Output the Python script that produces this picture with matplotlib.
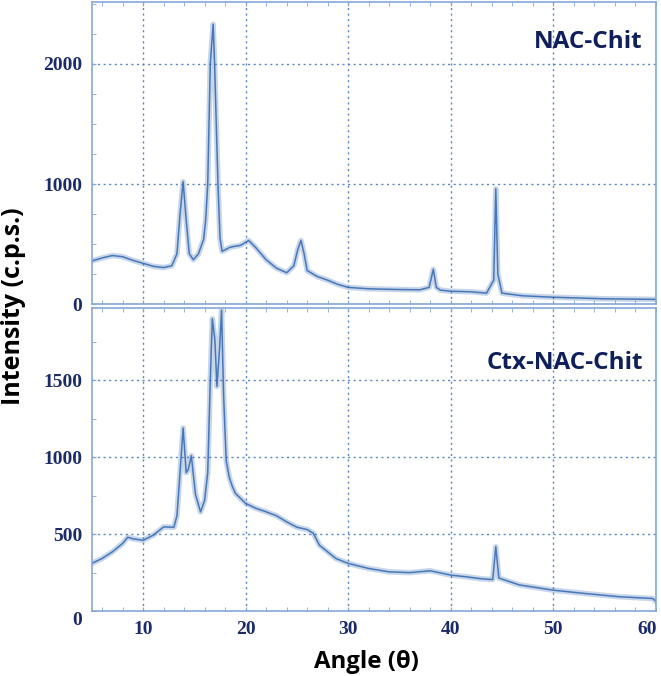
import matplotlib
matplotlib.use("Agg")
import matplotlib.pyplot as plt
from matplotlib.ticker import MultipleLocator, FuncFormatter

# NAC-Chit diffractogram (top panel)
nac_angle = [5, 6, 7, 8, 9, 10, 11, 12, 12.8, 13.3, 13.6, 13.9, 14.2, 14.5, 14.9,
             15.4, 15.9, 16.1, 16.3, 16.55, 16.83, 16.97, 17.3, 17.5, 17.7, 18.5,
             19.5, 20.3, 21, 22, 23, 24, 24.7, 25.1, 25.4, 25.7, 26, 27, 28, 29, 30,
             32, 35, 37, 37.9, 38.3, 38.6, 39, 40, 42, 43.5, 44.2, 44.4, 44.6, 45,
             47, 50, 55, 60]
nac_counts = [360, 385, 405, 395, 365, 340, 315, 305, 320, 420, 750, 1020, 700, 420, 370,
              420, 540, 700, 1000, 2000, 2330, 2000, 1000, 550, 440, 475,
              490, 530, 470, 370, 300, 262, 320, 460, 530, 420, 280, 230, 200, 165, 140,
              128, 122, 120, 140, 290, 140, 117, 108, 103, 92, 200, 960, 250, 92,
              70, 58, 45, 40]

# Ctx-NAC-Chit diffractogram (bottom panel)
ctx_angle = [5, 6, 7, 8, 8.5, 9, 10, 11, 12, 13, 13.3, 13.6, 13.9, 14.2, 14.4, 14.7,
             15.1, 15.6, 16.0, 16.3, 16.55, 16.75, 17.0, 17.2, 17.45, 17.65, 17.85,
             18.1, 18.4, 18.7, 19, 20, 21, 22, 23, 24, 25, 26, 26.6, 27.2, 28.8, 30,
             32, 34, 36, 38, 40, 41.5, 43, 44.1, 44.4, 44.7, 46.7, 50, 53, 56.5,
             59.7, 60]
ctx_counts = [310, 342, 385, 440, 480, 470, 460, 494, 547, 545, 620, 900, 1190, 900, 920, 1010,
              760, 645, 720, 900, 1500, 1900, 1760, 1460, 1700, 1955, 1400,
              980, 870, 810, 765, 700, 668, 645, 620, 580, 545, 530, 506, 428, 342, 310,
              277, 255, 250, 262, 234, 223, 210, 205, 418, 215, 170, 136, 115, 93,
              82, 65]

line_col = "#3a6db3"
grid_col = "#5a86c8"
frame_col = "#86a8d8"
tick_col = "#1b2a6b"
name_col = "#0f1f5c"
tick_font = dict(family="Liberation Serif", fontweight="bold", fontsize=14, color=tick_col)

fig = plt.figure(figsize=(6.61, 6.76), dpi=100)
ax1 = fig.add_axes([0.139, 0.550, 0.853, 0.447])
ax2 = fig.add_axes([0.139, 0.096, 0.853, 0.448])

panels = [
    (ax1, nac_angle, nac_counts, (0, 2515), 1000, "NAC-Chit", 0.869),
    (ax2, ctx_angle, ctx_counts, (0, 1968), 500, "Ctx-NAC-Chit", 0.818),
]

for ax, xs, ys, ylim, ymaj, name, ty in panels:
    ax.plot(xs, ys, color=line_col, lw=4.0, alpha=0.28, solid_joinstyle="round")
    ax.plot(xs, ys, color=line_col, lw=1.1, alpha=0.9)
    ax.set_xlim(5, 60)
    ax.set_ylim(*ylim)
    ax.xaxis.set_major_locator(MultipleLocator(10))
    ax.xaxis.set_minor_locator(MultipleLocator(2))
    ax.yaxis.set_major_locator(MultipleLocator(ymaj))
    ax.yaxis.set_minor_locator(MultipleLocator(250))
    ax.grid(True, which="major", color=grid_col, ls=(0, (1.5, 2.5)), lw=1.0)
    for sp in ax.spines.values():
        sp.set_color(frame_col)
        sp.set_linewidth(1.2)
    ax.tick_params(which="both", direction="in", color=frame_col, length=3,
                   top=True, bottom=True, left=True, right=False,
                   labelcolor=tick_col, labelsize=14, pad=7)
    for lab in ax.get_yticklabels() + ax.get_xticklabels():
        lab.set_family("Liberation Serif")
        lab.set_fontweight("bold")
    ax.text(0.977, ty, name, transform=ax.transAxes, ha="right", va="center",
            fontsize=17.5, fontweight="bold", color=name_col, family="Open Sans")

ax1.tick_params(labelbottom=False)

# the bottom "0" sits a little low and the last "60" is pulled in from the edge
ax2.yaxis.set_major_formatter(FuncFormatter(lambda v, p: "" if v == 0 else "%d" % v))
ax2.xaxis.set_major_formatter(FuncFormatter(lambda v, p: "" if v == 60 else "%d" % v))
ax2.annotate("0", xy=(0, 0), xycoords=("axes fraction", "data"),
             xytext=(-7, -7), textcoords="offset points", ha="right", va="center",
             **tick_font)
ax2.annotate("60", xy=(60, 0), xycoords=("data", "axes fraction"),
             xytext=(1, -7), textcoords="offset points", ha="right", va="top",
             **tick_font)

fig.text(0.021, 0.547, "Intensity (c.p.s.)", rotation=90, ha="center", va="center",
         fontsize=18, fontweight="bold", family="Open Sans", color="black")
fig.text(0.555, 0.021, "Angle (θ)", ha="center", va="center",
         fontsize=17.3, fontweight="bold", family="Open Sans", color="black")

fig.savefig("out.png", dpi=100)
